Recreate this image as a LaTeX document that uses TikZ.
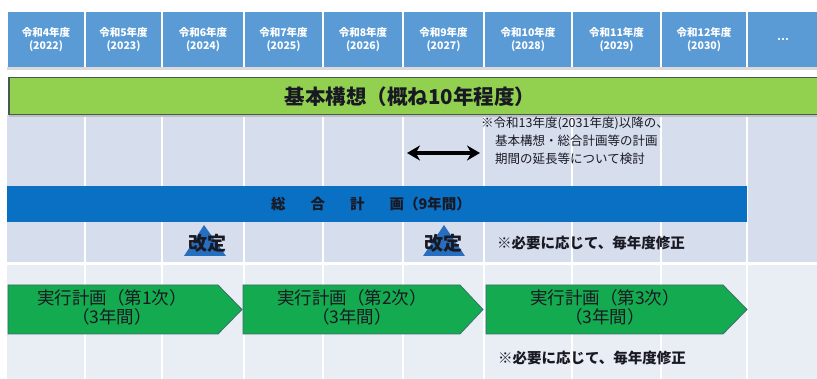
\documentclass[tikz,border=0pt]{standalone}
\usepackage{fontspec}
\setmainfont{Noto Sans CJK JP}
\usetikzlibrary{arrows.meta}
\definecolor{hdrblue}{RGB}{91,155,213}
\definecolor{gridup}{RGB}{214,222,238}
\definecolor{gridlow}{RGB}{233,237,244}
\definecolor{kgreen}{RGB}{146,208,80}
\definecolor{kborder}{RGB}{70,90,80}
\definecolor{sblue}{RGB}{10,112,196}
\definecolor{agreen}{RGB}{20,170,80}
\definecolor{aborder}{RGB}{60,110,110}
\definecolor{tri}{RGB}{40,110,190}
\definecolor{txt}{RGB}{25,25,35}
\tikzset{
  hdr/.style={fill=hdrblue, text=white, align=center, inner sep=0pt, minimum height=55pt,
    font=\bfseries\fontsize{10.5}{13.5}\selectfont},
  arrowtxt/.style={align=center, text=txt, font=\fontsize{17.5}{19}\selectfont, inner sep=0pt},
  notetxt/.style={text=txt, font=\bfseries\fontsize{14.5}{17}\selectfont, inner sep=0pt, anchor=west},
  plan/.style={fill=agreen, draw=aborder, line width=0.8pt},
  kaitei/.style={text=txt, font=\bfseries\fontsize{19}{20}\selectfont, inner sep=0pt},
}
\begin{document}
\begin{tikzpicture}[x=1pt,y=-1pt]
\useasboundingbox[fill=white] (0,0) rectangle (817,379);
% grid backgrounds
\fill[gridup] (7,115) rectangle (817,262);
\fill[gridlow] (7,265) rectangle (817,379);
\foreach \x in {85,162,244,323,403,484,572,661,747}
  \draw[white, line width=2pt] (\x,115) -- (\x,379);
% header shadow
\fill[black!15] (7,67) rectangle (817,70);
% header cells
\node[hdr, minimum width=76pt] (h1) at (46,39.5) {令和4年度\\(2022)};
\node[hdr, minimum width=75pt] (h2) at (123.5,39.5) {令和5年度\\(2023)};
\node[hdr, minimum width=80pt] (h3) at (203,39.5) {令和6年度\\(2024)};
\node[hdr, minimum width=77pt] (h4) at (283.5,39.5) {令和7年度\\(2025)};
\node[hdr, minimum width=78pt] (h5) at (363,39.5) {令和8年度\\(2026)};
\node[hdr, minimum width=79pt] (h6) at (443.5,39.5) {令和9年度\\(2027)};
\node[hdr, minimum width=86pt] (h7) at (528,39.5) {令和10年度\\(2028)};
\node[hdr, minimum width=87pt] (h8) at (616.5,39.5) {令和11年度\\(2029)};
\node[hdr, minimum width=84pt] (h9) at (704,39.5) {令和12年度\\(2030)};
\node[hdr, minimum width=70pt] (h10) at (783,39.5) {…};
% basic concept bar
\fill[black!25] (9,79) rectangle (820,117);
\node[fill=kgreen, draw=kborder, line width=1.5pt, minimum width=820pt, minimum height=37pt,
  inner sep=0pt, anchor=west] (kihon) at (8,96) {};
\node[text=txt, font=\bfseries\fontsize{20.5}{22}\selectfont, inner sep=0pt] (kihont) at (410,97)
  {基本構想（概ね10年程度）};
% extension note
\coordinate (da1) at (407,153);
\coordinate (da2) at (480,153);
\draw[line width=4pt, {Stealth[length=13pt,width=15pt]}-{Stealth[length=13pt,width=15pt]}] (da1) -- (da2);
\node[text=txt, font=\fontsize{12.5}{18}\selectfont, inner sep=0pt, anchor=west, align=left] (ext) at (481,141)
  {※令和13年度(2031年度)以降の、\\\hspace*{14pt}基本構想・総合計画等の計画\\\hspace*{14pt}期間の延長等について検討};
% comprehensive plan bar
\node[fill=sblue, minimum width=740pt, minimum height=36pt, inner sep=0pt, anchor=west] (sogo) at (7,204) {};
\node[text=txt, font=\bfseries\fontsize{14.5}{16}\selectfont, inner sep=0pt] (sogot) at (371,204)
  {総\hspace{25pt}合\hspace{25pt}計\hspace{25pt}画（9年間）};
% revision markers
\fill[tri] (204,225) -- (226,256) -- (184,256) -- cycle;
\fill[tri] (444,225) -- (465,256) -- (423,256) -- cycle;
\node[kaitei] (k1) at (207,243) {改定};
\node[kaitei] (k2) at (443,243) {改定};
\node[notetxt] (n1) at (497,243) {※必要に応じて、毎年度修正};
% implementation plans
\draw[plan] (8,285) -- (218,285) -- (242,309.5) -- (218,334) -- (8,334) -- cycle;
\draw[plan] (243,285) -- (460,285) -- (483,309.5) -- (460,334) -- (243,334) -- cycle;
\draw[plan] (486,285) -- (723,285) -- (747,309.5) -- (723,334) -- (486,334) -- cycle;
\node[arrowtxt] (p1) at (112,307.5) {実行計画（第1次）\\（3年間）};
\node[arrowtxt] (p2) at (352,307.5) {実行計画（第2次）\\（3年間）};
\node[arrowtxt] (p3) at (605,307.5) {実行計画（第3次）\\（3年間）};
\node[notetxt] (n2) at (498,358) {※必要に応じて、毎年度修正};
\end{tikzpicture}
\end{document}
